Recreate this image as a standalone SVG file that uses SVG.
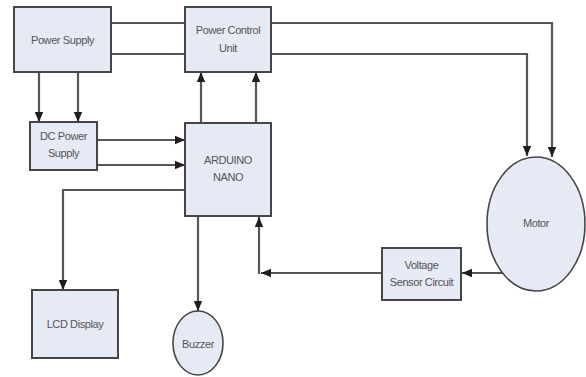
<svg xmlns="http://www.w3.org/2000/svg" width="586" height="377" viewBox="0 0 586 377">
<defs>
<marker id="arr" markerUnits="userSpaceOnUse" markerWidth="10" markerHeight="10" viewBox="0 0 10 10" refX="10" refY="5" orient="auto">
<path d="M0,0.8 L10,5 L0,9.2 Z" fill="#1e1e1e"/>
</marker>
</defs>
<style>
.box{fill:#e6eaf5;stroke:#454545;stroke-width:2}
.ell{fill:#e6eaf5;stroke:#454545;stroke-width:1.6}
.ln{fill:none;stroke:#555;stroke-width:2.2}
.ar{marker-end:url(#arr)}
text{font-family:"Liberation Sans",Arial,sans-serif;font-size:11px;fill:#555;text-anchor:middle;dominant-baseline:central;letter-spacing:-0.4px}
</style>
<rect width="586" height="377" fill="#fff"/>
<g id="connectors">
<line class="ln" x1="111" y1="23" x2="185" y2="23"/>
<line class="ln" x1="111" y1="54" x2="185" y2="54"/>
<polyline class="ln ar" points="271,23 552,23 552,157"/>
<polyline class="ln ar" points="271,54 527,54 527,156"/>
<line class="ln ar" x1="39" y1="72" x2="39" y2="122"/>
<line class="ln ar" x1="78" y1="72" x2="78" y2="122"/>
<line class="ln ar" x1="201" y1="123" x2="201" y2="72"/>
<line class="ln ar" x1="256" y1="123" x2="256" y2="72"/>
<line class="ln ar" x1="97" y1="140" x2="185" y2="140"/>
<line class="ln ar" x1="97" y1="165" x2="185" y2="165"/>
<polyline class="ln ar" points="185,190 63,190 63,290"/>
<line class="ln ar" x1="198" y1="216" x2="198" y2="311"/>
<line class="ln ar" x1="508" y1="273" x2="462" y2="273"/>
<line class="ln ar" x1="382" y1="273" x2="261" y2="273"/>
<line class="ln ar" x1="259" y1="274" x2="259" y2="217"/>
</g>
<g id="power-supply">
<rect class="box" x="14" y="7" width="97" height="65"/>
<text x="62.5" y="40">Power Supply</text>
</g>
<g id="power-control-unit">
<rect class="box" x="185" y="7" width="86" height="65"/>
<text x="228" y="30">Power Control</text>
<text x="228" y="48">Unit</text>
</g>
<g id="dc-power-supply">
<rect class="box" x="30" y="122" width="67" height="48"/>
<text x="63.5" y="136">DC Power</text>
<text x="63.5" y="153">Supply</text>
</g>
<g id="arduino-nano">
<rect class="box" x="185" y="123" width="86" height="93"/>
<text x="228" y="160">ARDUINO</text>
<text x="228" y="177">NANO</text>
</g>
<g id="lcd-display">
<rect class="box" x="32" y="290" width="86" height="68"/>
<text x="75" y="324">LCD Display</text>
</g>
<g id="buzzer">
<ellipse class="ell" cx="198" cy="343" rx="25" ry="32"/>
<text x="198" y="344">Buzzer</text>
</g>
<g id="motor">
<ellipse class="ell" cx="536" cy="224" rx="49" ry="67"/>
<text x="536" y="223">Motor</text>
</g>
<g id="voltage-sensor-circuit">
<rect class="box" x="382" y="248" width="79" height="52"/>
<text x="421.5" y="265">Voltage</text>
<text x="421.5" y="282">Sensor Circuit</text>
</g>
</svg>
